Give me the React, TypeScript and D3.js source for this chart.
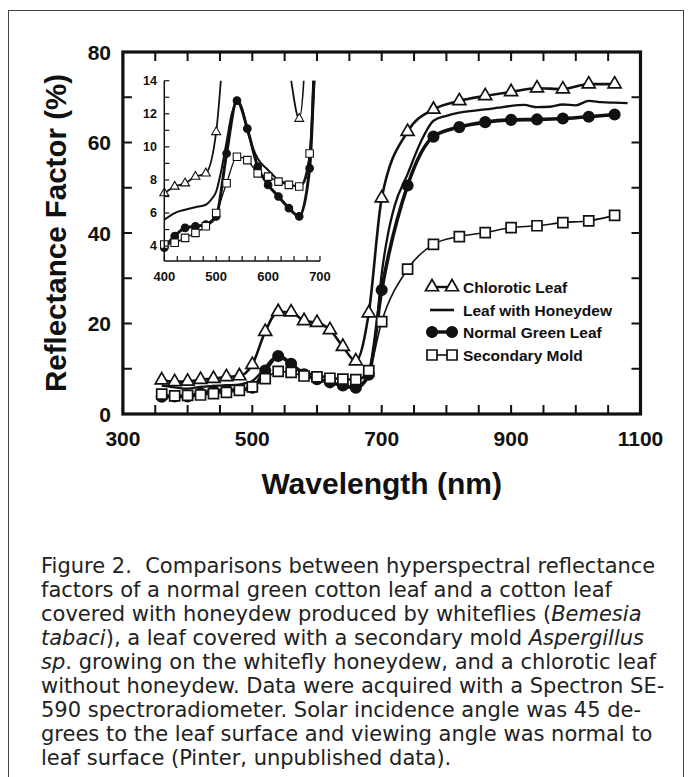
import * as d3 from "d3";

// wavelengths (nm) where the measured spectra carry a marker
const markerWl = [
  360, 380, 400, 420, 440, 460, 480, 500, 520, 540, 560, 580, 600, 620, 640,
  660, 680, 700, 740, 780, 820, 860, 900, 940, 980, 1020, 1060,
];
const chlorotic = [
  7.5, 7.1, 7.2, 7.6, 7.8, 8.2, 8.4, 10.9, 18.2, 22.6, 22.5, 20.6, 20.2, 18.6,
  14.9, 11.7, 22.3, 47.7, 62.4, 67.3, 69.2, 70.3, 71.2, 72.0, 71.8, 72.9, 72.9,
];
const normalGreen = [
  3.8, 3.9, 3.9, 4.6, 5.1, 5.2, 5.3, 5.8, 9.6, 12.8, 11.1, 8.8, 7.7, 7.0, 6.3,
  5.8, 8.7, 27.4, 50.5, 61.3, 63.4, 64.5, 65.0, 65.1, 65.3, 65.7, 66.2,
];
const secondaryMold = [
  4.4, 4.0, 4.1, 4.2, 4.5, 4.8, 5.2, 6.0, 7.8, 9.4, 9.2, 8.4, 8.2, 7.9, 7.7,
  7.6, 9.6, 20.4, 32.0, 37.5, 39.2, 40.1, 41.2, 41.6, 42.3, 42.7, 43.9,
];
// honeydew leaf is drawn as a plain line
const honeydewWl = [
  360, 380, 400, 420, 440, 460, 480, 490, 500, 510, 520, 530, 540, 550, 560,
  570, 580, 600, 620, 640, 660, 670, 680, 690, 700, 710, 720, 740, 760, 780,
  800, 820, 840, 860, 880, 900, 920, 940, 960, 980, 1000, 1020, 1040, 1060,
  1080,
];
const honeydew = [
  6.3, 5.9, 5.6, 6.0, 6.2, 6.35, 6.5, 6.8, 7.3, 8.6, 10.3, 12.0, 12.7, 12.3,
  11.0, 10.0, 9.3, 8.6, 8.0, 7.75, 7.6, 7.9, 9.5, 17, 31, 40, 46, 53, 60, 64.8,
  65.9, 66.6, 67.0, 67.3, 67.7, 68.1, 68.3, 67.8, 67.9, 68.4, 68.2, 69.2, 68.9,
  68.8, 68.7,
];

const xTickLabels = [300, 500, 700, 900, 1100];
const yTickLabels = [0, 20, 40, 60, 80];
const insetXLabels = [400, 500, 600, 700];
const insetYLabels = [4, 6, 8, 10, 12, 14];

const legendLabels = [
  "Chlorotic Leaf",
  "Leaf with Honeydew",
  "Normal Green Leaf",
  "Secondary Mold",
];

const captionLines: { t: string; i?: boolean }[][] = [
  [{ t: "Figure 2.  Comparisons between hyperspectral reflectance" }],
  [{ t: "factors of a normal green cotton leaf and a cotton leaf" }],
  [
    { t: "covered with honeydew produced by whiteflies (" },
    { t: "Bemesia", i: true },
  ],
  [
    { t: "tabaci", i: true },
    { t: "), a leaf covered with a secondary mold " },
    { t: "Aspergillus", i: true },
  ],
  [
    { t: "sp", i: true },
    { t: ". growing on the whitefly honeydew, and a chlorotic leaf" },
  ],
  [{ t: "without honeydew. Data were acquired with a Spectron SE-" }],
  [{ t: "590 spectroradiometer. Solar incidence angle was 45 de-" }],
  [{ t: "grees to the leaf surface and viewing angle was normal to" }],
  [{ t: "leaf surface (Pinter, unpublished data)." }],
];

type Pt = [number, number];
const zip = (xs: number[], ys: number[]): Pt[] => xs.map((x, i) => [x, ys[i]]);

const W = 692;
const H = 777;
const font = "'Liberation Sans', Arial, Helvetica, sans-serif";

const App = () => {
  const x = d3.scaleLinear().domain([300, 1100]).range([122.9, 640.5]);
  const y = d3.scaleLinear().domain([0, 80]).range([414, 52]);
  const ix = d3.scaleLinear().domain([400, 700]).range([164.3, 320]);
  const iy = d3.scaleLinear().domain([3.1, 14]).range([261, 80.7]);

  const series = [
    { key: "green", pts: zip(markerWl, normalGreen), sw: 3.6, isw: 3, mark: "circle" },
    { key: "honey", pts: zip(honeydewWl, honeydew), sw: 2.3, isw: 2, mark: "none" },
    { key: "mold", pts: zip(markerWl, secondaryMold), sw: 1.6, isw: 1.3, mark: "square" },
    { key: "chlor", pts: zip(markerWl, chlorotic), sw: 2.6, isw: 1.8, mark: "triangle" },
  ];

  const symbolPath = (mark: string, big: boolean) => {
    if (mark === "circle")
      return d3.symbol(d3.symbolCircle, Math.PI * (big ? 5.2 : 3.8) ** 2)()!;
    if (mark === "square")
      return d3.symbol(d3.symbolSquare, (big ? 10 : 7.5) ** 2)()!;
    const s = big ? 13 : 9;
    return d3.symbol(d3.symbolTriangle, (Math.sqrt(3) / 4) * s * s)()!;
  };

  const markFill = (mark: string) => (mark === "circle" ? "#111" : "#fff");

  const mainLine = d3
    .line<Pt>()
    .x((d) => x(d[0]))
    .y((d) => y(d[1]))
    .curve(d3.curveMonotoneX);
  const insetLine = d3
    .line<Pt>()
    .x((d) => ix(d[0]))
    .y((d) => iy(d[1]))
    .curve(d3.curveMonotoneX);

  const xTicks = d3.range(300, 1101, 50);
  const yTicks = d3.range(0, 81, 10);
  const ixTicks = d3.range(400, 701, 25);
  const iyTicks = d3.range(4, 15, 1);

  const legendX = 427;
  const legendY = [287, 310, 332, 355];
  const legendMarks = ["triangle", "none", "circle", "square"];
  const legendSw = [2.4, 2.6, 3.4, 1.6];

  return (
    <svg
      width={W}
      height={H}
      viewBox={`0 0 ${W} ${H}`}
      style={{ position: "absolute", left: 0, top: 0, background: "#fff" }}
    >
      <rect x={8.5} y={10.5} width={675} height={800} fill="none" stroke="#444" strokeWidth={1} />

      <defs>
        <clipPath id="insetClip">
          <rect x={150} y={80.7} width={185} height={195} />
        </clipPath>
      </defs>

      {/* main series */}
      {series.map((s) => (
        <g key={s.key}>
          <path d={mainLine(s.pts) ?? undefined} fill="none" stroke="#111" strokeWidth={s.sw} strokeLinejoin="round" />
          {s.mark !== "none" &&
            s.pts.map((p, i) => (
              <path
                key={i}
                d={symbolPath(s.mark, true)}
                transform={`translate(${x(p[0])},${y(p[1])})`}
                fill={markFill(s.mark)}
                stroke="#111"
                strokeWidth={1.7}
              />
            ))}
        </g>
      ))}

      {/* frame */}
      <rect x={x(300)} y={y(80)} width={x(1100) - x(300)} height={y(0) - y(80)} fill="none" stroke="#111" strokeWidth={3.2} />
      {xTicks.map((t) => (
        <g key={t}>
          <line x1={x(t)} x2={x(t)} y1={y(0)} y2={y(0) - 9} stroke="#111" strokeWidth={2} />
          <line x1={x(t)} x2={x(t)} y1={y(80)} y2={y(80) + 9} stroke="#111" strokeWidth={2} />
        </g>
      ))}
      {yTicks.map((t) => (
        <g key={t}>
          <line x1={x(300)} x2={x(300) + 9} y1={y(t)} y2={y(t)} stroke="#111" strokeWidth={2} />
          <line x1={x(1100)} x2={x(1100) - 9} y1={y(t)} y2={y(t)} stroke="#111" strokeWidth={2} />
        </g>
      ))}
      {xTickLabels.map((t) => (
        <text key={t} x={x(t)} y={446} textAnchor="middle" fontFamily={font} fontWeight="bold" fontSize={21} fill="#111">
          {t}
        </text>
      ))}
      {yTickLabels.map((t) => (
        <text key={t} x={111} y={y(t)} textAnchor="end" dominantBaseline="central" fontFamily={font} fontWeight="bold" fontSize={21} fill="#111">
          {t}
        </text>
      ))}
      <text x={(x(300) + x(1100)) / 2} y={494} textAnchor="middle" fontFamily={font} fontWeight="bold" fontSize={30} fill="#111">
        Wavelength (nm)
      </text>
      <text
        transform={`translate(55,${(y(0) + y(80)) / 2}) rotate(-90)`}
        textAnchor="middle"
        dominantBaseline="central"
        fontFamily={font}
        fontWeight="bold"
        fontSize={29.5}
        fill="#111"
      >
        Reflectance Factor (%)
      </text>

      {/* inset */}
      <g clipPath="url(#insetClip)">
        {series.map((s) => {
          const pts = s.pts.filter((p) => p[0] >= 400 && p[0] <= 700);
          return (
            <g key={s.key}>
              <path d={insetLine(pts) ?? undefined} fill="none" stroke="#111" strokeWidth={s.isw} strokeLinejoin="round" />
              {s.mark !== "none" &&
                pts
                  .filter((p) => p[0] <= 680)
                  .map((p, i) => (
                    <path
                      key={i}
                      d={symbolPath(s.mark, false)}
                      transform={`translate(${ix(p[0])},${iy(p[1])})`}
                      fill={markFill(s.mark)}
                      stroke="#111"
                      strokeWidth={1.1}
                    />
                  ))}
            </g>
          );
        })}
      </g>
      <line x1={ix(400)} x2={ix(400)} y1={iy(3.1)} y2={iy(14)} stroke="#111" strokeWidth={1.5} />
      <line x1={ix(400)} x2={ix(700)} y1={iy(3.1)} y2={iy(3.1)} stroke="#111" strokeWidth={1.5} />
      {ixTicks.map((t) => (
        <line key={t} x1={ix(t)} x2={ix(t)} y1={iy(3.1)} y2={iy(3.1) - 5} stroke="#111" strokeWidth={1.2} />
      ))}
      {iyTicks.map((t) => (
        <line key={t} x1={ix(400)} x2={ix(400) + 5} y1={iy(t)} y2={iy(t)} stroke="#111" strokeWidth={1.2} />
      ))}
      {insetXLabels.map((t) => (
        <text key={t} x={ix(t)} y={281} textAnchor="middle" fontFamily={font} fontWeight="bold" fontSize={13} fill="#111">
          {t}
        </text>
      ))}
      {insetYLabels.map((t) => (
        <text key={t} x={157} y={iy(t)} textAnchor="end" dominantBaseline="central" fontFamily={font} fontWeight="bold" fontSize={12.5} fill="#111">
          {t}
        </text>
      ))}

      {/* legend */}
      {legendLabels.map((lab, i) => (
        <g key={lab}>
          <line x1={legendX + 3} x2={legendX + 27} y1={legendY[i]} y2={legendY[i]} stroke="#111" strokeWidth={legendSw[i]} />
          {legendMarks[i] !== "none" &&
            [legendX + 5, legendX + 25].map((cx) => (
              <path
                key={cx}
                d={symbolPath(legendMarks[i], true)}
                transform={`translate(${cx},${legendY[i]})`}
                fill={markFill(legendMarks[i])}
                stroke="#111"
                strokeWidth={1.7}
              />
            ))}
          <text x={legendX + 36} y={legendY[i]} dominantBaseline="central" fontFamily={font} fontWeight="bold" fontSize={15.5} fill="#111">
            {lab}
          </text>
        </g>
      ))}

      {/* caption */}
      {captionLines.map((line, i) => (
        <text
          key={i}
          x={41}
          y={573 + i * 24}
          xmlSpace="preserve"
          style={{ whiteSpace: "pre" }}
          fontFamily="'DejaVu Sans', sans-serif"
          fontSize={21}
          fill="#222"
        >
          {line.map((seg, j) => (
            <tspan key={j} fontStyle={seg.i ? "italic" : "normal"}>
              {seg.t}
            </tspan>
          ))}
        </text>
      ))}
    </svg>
  );
};

export default App;
